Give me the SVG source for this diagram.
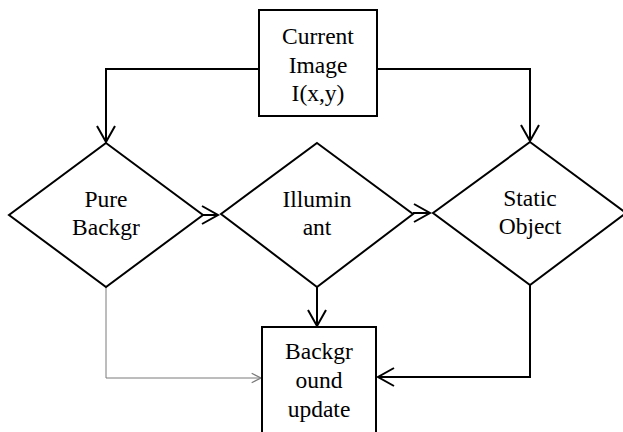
<svg xmlns="http://www.w3.org/2000/svg" width="623" height="432" viewBox="0 0 623 432">
<defs>
<style>
.shape{fill:#fff;stroke:#000;stroke-width:2}
.lbl{font-family:"Liberation Serif","Times New Roman",serif;font-size:23.5px;fill:#000;text-anchor:middle}
.conn{fill:none;stroke:#000;stroke-width:2}
.thin{fill:none;stroke:#7a7a7a;stroke-width:1}
</style>
<marker id="arr" markerUnits="userSpaceOnUse" markerWidth="24" markerHeight="24" viewBox="-20 -12 22 24" refX="0" refY="0" orient="auto">
<path d="M-16,-9 L0,0 L-16,9" fill="none" stroke="#000" stroke-width="2"/>
</marker>
<marker id="arrg" markerUnits="userSpaceOnUse" markerWidth="14" markerHeight="14" viewBox="-10 -6 12 12" refX="0" refY="0" orient="auto">
<path d="M-8,-4 L0,0 L-8,4" fill="none" stroke="#7a7a7a" stroke-width="1"/>
</marker>
</defs>
<g id="connectors">
<path class="conn" d="M259,69 H106 V142" marker-end="url(#arr)"/>
<path class="conn" d="M377,69 H530 V141" marker-end="url(#arr)"/>
<path class="conn" d="M203,215 H218" marker-end="url(#arr)"/>
<path class="conn" d="M413,213 H430" marker-end="url(#arr)"/>
<path class="conn" d="M317,287 V326" marker-end="url(#arr)"/>
<path class="thin" d="M106,287 V378 H261" marker-end="url(#arrg)"/>
<path class="conn" d="M530,285 V377 H378" marker-end="url(#arr)"/>
</g>
<g id="current-image">
<rect class="shape" x="259" y="10" width="118" height="106"/>
<text class="lbl" x="318" y="44">Current</text>
<text class="lbl" x="318" y="73">Image</text>
<text class="lbl" x="318" y="101">I(x,y)</text>
</g>
<g id="pure-backgr">
<polygon class="shape" points="106,143 203,215 106,287 9,215"/>
<text class="lbl" x="106" y="207">Pure</text>
<text class="lbl" x="106" y="235">Backgr</text>
</g>
<g id="illuminant">
<polygon class="shape" points="317,143 413,214 317,287 221,214"/>
<text class="lbl" x="317" y="207">Illumin</text>
<text class="lbl" x="317" y="235">ant</text>
</g>
<g id="static-object">
<polygon class="shape" points="530,142 626,213 530,285 433,213"/>
<text class="lbl" x="530" y="206">Static</text>
<text class="lbl" x="530" y="234">Object</text>
</g>
<g id="background-update">
<rect class="shape" x="262" y="327" width="114" height="120"/>
<text class="lbl" x="319" y="359">Backgr</text>
<text class="lbl" x="319" y="388">ound</text>
<text class="lbl" x="319" y="417">update</text>
</g>
</svg>
